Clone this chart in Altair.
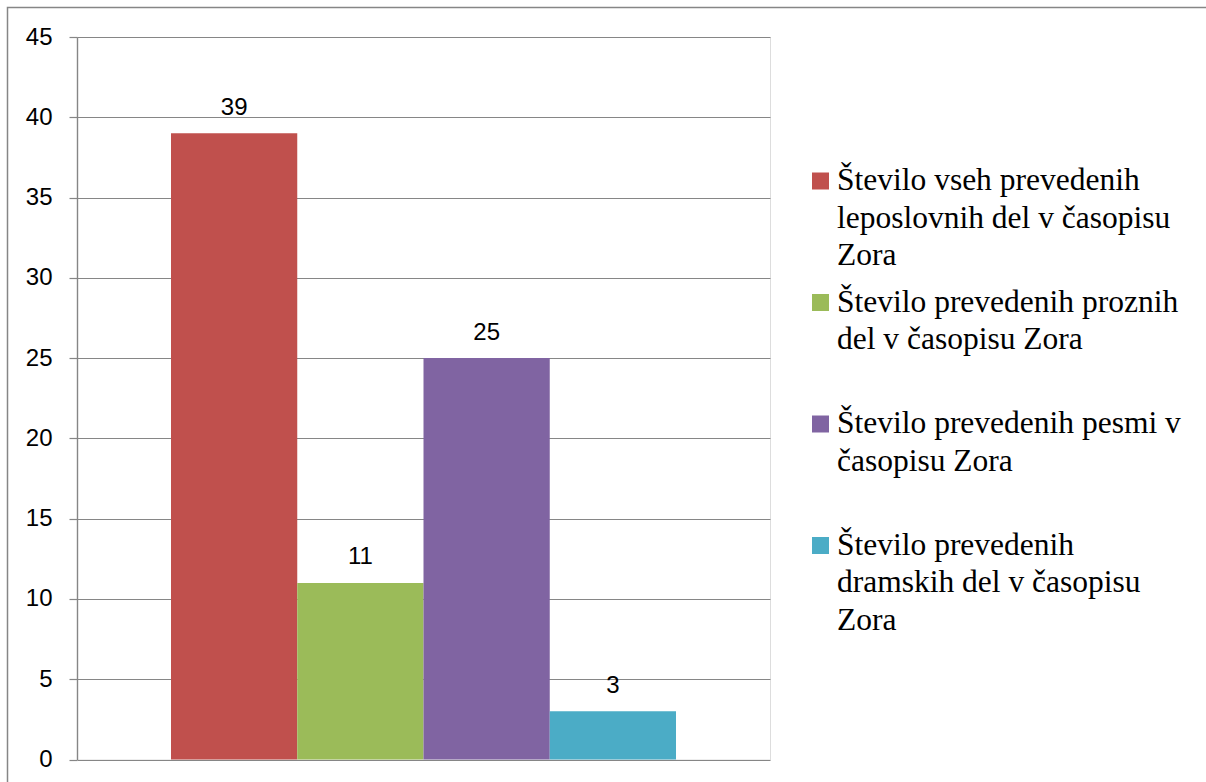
import altair as alt
import pandas as pd

# Series names (as drawn in the legend, "\n" marks line breaks)
series = [
    "Število vseh prevedenih\nleposlovnih del v časopisu\nZora",
    "Število prevedenih proznih\ndel v časopisu Zora",
    "Število prevedenih pesmi v\nčasopisu Zora",
    "Število prevedenih\ndramskih del v časopisu\nZora",
]
values = [39, 11, 25, 3]
colors = ["#C0504D", "#9BBB59", "#8064A2", "#4BACC6"]
y_ticks = [0, 5, 10, 15, 20, 25, 30, 35, 40, 45]

df = pd.DataFrame({"series": series, "value": values})
color_scale = alt.Scale(domain=series, range=colors)

GRID = "#868686"
SANS = "Liberation Sans"
SERIF = "Liberation Serif"

# Outer frame around the whole chart
frame = alt.Chart(pd.DataFrame({"k": [0]})).mark_rect(
    fill=None, stroke=GRID, strokeWidth=1.5
).encode(
    x=alt.value(-69.5), x2=alt.value(1240),
    y=alt.value(-29.5), y2=alt.value(800),
)

x_enc = alt.X("series:N", sort=series, axis=None,
              scale=alt.Scale(paddingInner=0, paddingOuter=0.7446))
y_enc = alt.Y("value:Q",
              scale=alt.Scale(domain=[0, 45], nice=False),
              axis=alt.Axis(values=y_ticks, title=None, grid=True,
                            gridColor=GRID, gridWidth=1.2,
                            domainColor=GRID, domainWidth=1.4,
                            tickColor=GRID, tickSize=8, tickWidth=1.2,
                            labelFont=SANS, labelFontSize=24,
                            labelColor="#000000", labelPadding=17))

bars = alt.Chart(df).mark_bar(size=126.25).encode(
    x=x_enc,
    y=y_enc,
    color=alt.Color("series:N", scale=color_scale, legend=None),
)

labels = alt.Chart(df).mark_text(
    font=SANS, fontSize=24, color="#000000",
    baseline="alphabetic", dy=-18.5,
).encode(
    x=x_enc,
    y=y_enc,
    text=alt.Text("value:Q"),
)

main = alt.layer(bars, labels)

# Hand-built legend to the right of the plot
legend_y = alt.Y("series:N", sort=series, axis=None,
                 scale=alt.Scale(type="point", range=[144, 508.5], padding=0))

leg_sym = alt.Chart(df).mark_square(size=289, opacity=1).encode(
    x=alt.value(743.5),
    y=legend_y,
    color=alt.Color("series:N", scale=color_scale, legend=None),
)

leg_txt = alt.Chart(df).mark_text(
    font=SERIF, fontSize=31.5, color="#000000", align="left",
    baseline="alphabetic", dy=9, lineBreak="\n", lineHeight=37.5,
).encode(
    x=alt.value(760),
    y=legend_y,
    text="series:N",
)

legend = alt.layer(leg_sym, leg_txt)

chart = alt.layer(frame, main, legend).resolve_scale(
    y="independent", x="independent"
).properties(
    width=693, height=722.5,
    autosize=alt.AutoSizeParams(type="none"),
    padding={"left": 77, "top": 37, "right": 436, "bottom": 22.5},
).configure_view(strokeWidth=0).configure(background="#ffffff")

chart.save("out.html", embed_options={"renderer": "svg", "actions": False})
